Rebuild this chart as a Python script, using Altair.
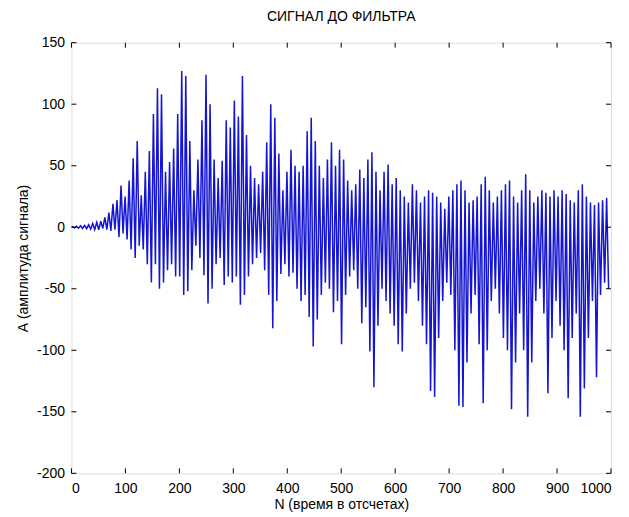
import altair as alt
import pandas as pd

# Peak (positive) and trough (negative) values per oscillation cycle
peaks = [
    0.5, 0.8, 1.2, 1.5, 2, 3, 4, 5, 8, 12,
    19, 22, 34, 25, 38, 56, 70, 26, 45, 62,
    92, 113, 108, 45, 53, 64, 92, 127, 123, 70,
    30, 55, 87, 124, 100, 55, 40, 54, 87, 81,
    103, 90, 123, 75, 50, 40, 35, 45, 69, 100,
    89, 60, 30, 45, 63, 50, 45, 50, 78, 89,
    70, 50, 40, 55, 69, 50, 63, 55, 38, 30,
    35, 47, 40, 55, 61, 45, 30, 45, 51, 35,
    40, 30, 25, 20, 35, 30, 20, 25, 30, 28,
    25, 20, 15, 25, 30, 35, 38, 30, 20, 22,
    25, 35, 41, 30, 20, 25, 30, 35, 38, 25,
    20, 30, 43, 30, 20, 25, 30, 28, 25, 30,
    25, 30, 27, 22, 20, 30, 35, 25, 20, 18, 20, 22, 24,
]
troughs = [
    -0.5, -0.8, -1, -1.2, -1.5, -2, -2, -1, -2, -3,
    -2, -8, -5, -10, -18, -25, -15, -18, -30, -45,
    -30, -50, -45, -35, -30, -40, -40, -55, -52, -35,
    -15, -25, -39, -62, -50, -30, -25, -47, -40, -45,
    -40, -63, -55, -40, -30, -25, -21, -35, -55, -82,
    -60, -38, -30, -40, -37, -50, -60, -55, -73, -97,
    -75, -55, -45, -50, -69, -60, -95, -55, -40, -35,
    -50, -78, -65, -101, -130, -80, -50, -60, -70, -80,
    -95, -101, -70, -50, -45, -60, -80, -95, -133, -138,
    -90, -60, -45, -55, -100, -145, -146, -110, -70, -55,
    -95, -143, -100, -60, -50, -70, -90, -100, -148, -110,
    -70, -100, -154, -110, -60, -50, -70, -135, -90, -60,
    -80, -100, -139, -90, -70, -154, -131, -90, -60, -122, -55, -45, -50,
]
period = 7.5  # samples per oscillation cycle

x_ticks = [0, 100, 200, 300, 400, 500, 600, 700, 800, 900, 1000]
y_ticks = [-200, -150, -100, -50, 0, 50, 100, 150]

n_vals = [0.0]
a_vals = [0.0]
for k, (p, t) in enumerate(zip(peaks, troughs)):
    n_vals.append(k * period + 1.9)
    a_vals.append(p)
    n_vals.append(k * period + 5.6)
    a_vals.append(t)

sig = pd.DataFrame({"n": n_vals, "a": a_vals})
xt = pd.DataFrame({"v": x_ticks})
yt = pd.DataFrame({"v": y_ticks})

W, H = 540, 431
FONT = "Liberation Sans"

xs = alt.Scale(domain=[0, 1000], nice=False, zero=False)
ys = alt.Scale(domain=[-200, 150], nice=False, zero=False)

line = alt.Chart(sig).mark_line(color="#1414d2", strokeWidth=1.5, clip=True).encode(
    x=alt.X("n:Q", scale=xs,
            axis=alt.Axis(values=x_ticks, ticks=False, domain=False, grid=False,
                          labelFontSize=14, labelFont=FONT, labelColor="black",
                          labelPadding=8, labelExpr="datum.value + ''",
                          title="N (время в отсчетах)", titleFont=FONT,
                          titleFontSize=14, titleFontWeight="normal",
                          titleColor="black", titlePadding=2)),
    y=alt.Y("a:Q", scale=ys,
            axis=alt.Axis(values=y_ticks, ticks=False, domain=False, grid=False,
                          labelFontSize=14, labelFont=FONT, labelColor="black",
                          labelPadding=7, labelExpr="datum.value + ''",
                          title="А (амплитуда сигнала)", titleFont=FONT,
                          titleFontSize=14, titleFontWeight="normal",
                          titleColor="black", titlePadding=6)),
)

tick_bottom = alt.Chart(xt).mark_rule(color="black", strokeWidth=1).encode(
    x=alt.X("v:Q", scale=xs), y=alt.value(H), y2=alt.value(H - 5))
tick_top = alt.Chart(xt).mark_rule(color="black", strokeWidth=1).encode(
    x=alt.X("v:Q", scale=xs), y=alt.value(0), y2=alt.value(5))
tick_left = alt.Chart(yt).mark_rule(color="black", strokeWidth=1).encode(
    y=alt.Y("v:Q", scale=ys), x=alt.value(0), x2=alt.value(5))
tick_right = alt.Chart(yt).mark_rule(color="black", strokeWidth=1).encode(
    y=alt.Y("v:Q", scale=ys), x=alt.value(W), x2=alt.value(W - 5))

chart = alt.layer(line, tick_bottom, tick_top, tick_left, tick_right).properties(
    width=W, height=H,
    title=alt.TitleParams("СИГНАЛ ДО ФИЛЬТРА", font=FONT, fontSize=14,
                          fontWeight="normal", color="black", offset=12,
                          anchor="middle"),
    autosize=alt.AutoSizeParams(type="none"),
    padding={"left": 63.5, "top": 34.5, "right": 10, "bottom": 40},
).configure_view(stroke="black", strokeWidth=1).configure(background="white")

chart.save("out.html", embed_options={"renderer": "svg", "actions": False})
